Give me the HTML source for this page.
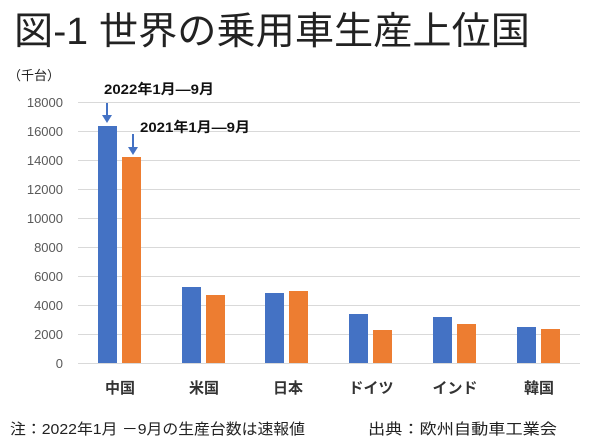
<!DOCTYPE html>
<html><head><meta charset="utf-8"><style>
body{margin:0;background:#fff;}
svg{display:block;font-family:"Liberation Sans","Noto Sans CJK JP",sans-serif;}
</style></head><body>
<svg width="600" height="447" viewBox="0 0 600 447">
<text x="14" y="44" font-size="38" fill="#222" textLength="516" lengthAdjust="spacingAndGlyphs">図-1 世界の乗用車生産上位国</text>
<text x="8" y="80" font-size="13" fill="#222">（千台）</text>
<g stroke="#d9d9d9" stroke-width="1">
<line x1="78" x2="580" y1="102.5" y2="102.5"/><line x1="78" x2="580" y1="131.5" y2="131.5"/>
<line x1="78" x2="580" y1="160.5" y2="160.5"/><line x1="78" x2="580" y1="189.5" y2="189.5"/>
<line x1="78" x2="580" y1="218.5" y2="218.5"/><line x1="78" x2="580" y1="247.5" y2="247.5"/>
<line x1="78" x2="580" y1="276.5" y2="276.5"/><line x1="78" x2="580" y1="305.5" y2="305.5"/>
<line x1="78" x2="580" y1="334.5" y2="334.5"/><line x1="78" x2="580" y1="363.5" y2="363.5"/>
</g>
<g font-size="13" fill="#595959" text-anchor="end">
<text x="63" y="107">18000</text><text x="63" y="136">16000</text><text x="63" y="165">14000</text>
<text x="63" y="194">12000</text><text x="63" y="223">10000</text><text x="63" y="252">8000</text>
<text x="63" y="281">6000</text><text x="63" y="310">4000</text><text x="63" y="339">2000</text>
<text x="63" y="368">0</text>
</g>
<g fill="#4472c4">
<rect x="98" y="126" width="19" height="237"/>
<rect x="182" y="287" width="19" height="76"/>
<rect x="265" y="293" width="19" height="70"/>
<rect x="349" y="314" width="19" height="49"/>
<rect x="433" y="317" width="19" height="46"/>
<rect x="517" y="327" width="19" height="36"/>
</g>
<g fill="#ed7d31">
<rect x="122" y="157" width="19" height="206"/>
<rect x="206" y="295" width="19" height="68"/>
<rect x="289" y="291" width="19" height="72"/>
<rect x="373" y="330" width="19" height="33"/>
<rect x="457" y="324" width="19" height="39"/>
<rect x="541" y="329" width="19" height="34"/>
</g>
<g font-size="15" fill="#333" text-anchor="middle" font-weight="bold">
<text x="120" y="393">中国</text><text x="204" y="393">米国</text><text x="288" y="393">日本</text>
<text x="371" y="393">ドイツ</text><text x="455" y="393">インド</text><text x="539" y="393">韓国</text>
</g>
<g stroke="#4472c4" stroke-width="2" fill="#4472c4">
<line x1="107" y1="103" x2="107" y2="117"/><polygon points="102,115 112,115 107,123" stroke="none"/>
<line x1="133" y1="134" x2="133" y2="149"/><polygon points="128,147 138,147 133,155" stroke="none"/>
</g>
<g font-size="14" font-weight="bold" fill="#111">
<text x="104" y="94" textLength="110" lengthAdjust="spacingAndGlyphs">2022年1月—9月</text>
<text x="140" y="132" textLength="110" lengthAdjust="spacingAndGlyphs">2021年1月—9月</text>
</g>
<g font-size="15" fill="#222">
<text x="10" y="434" textLength="295" lengthAdjust="spacingAndGlyphs">注：2022年1月 －9月の生産台数は速報値</text>
<text x="368" y="434" textLength="189" lengthAdjust="spacingAndGlyphs">出典：欧州自動車工業会</text>
</g>
</svg>
</body></html>
